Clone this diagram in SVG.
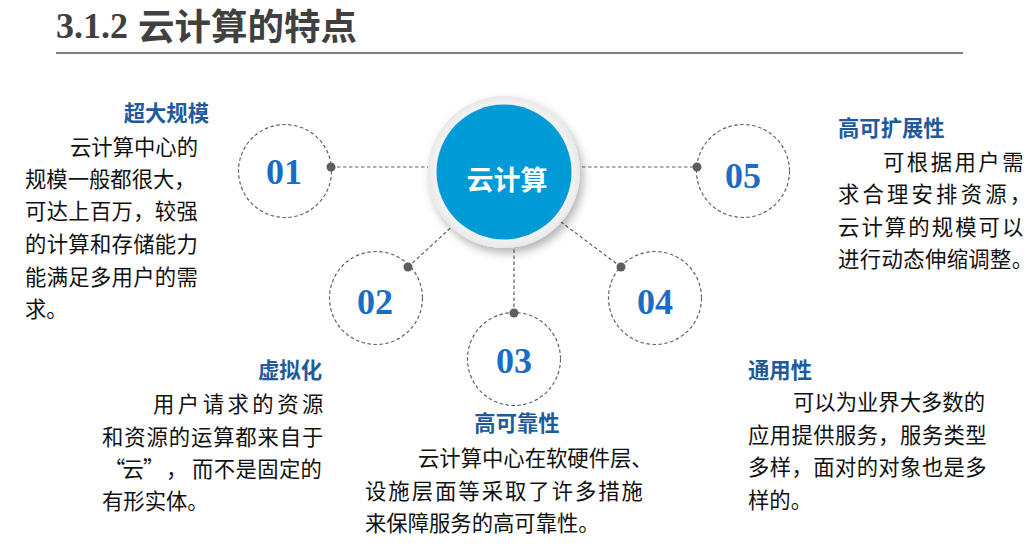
<svg xmlns="http://www.w3.org/2000/svg" width="1033" height="546" viewBox="0 0 1033 546">
<defs>
<style>
.title-num{font-family:"Liberation Serif",serif;font-weight:bold;font-size:36px;fill:#404040}
.title-cn{font-family:"Noto Sans CJK SC",sans-serif;font-weight:bold;font-size:36.5px;fill:#404040}
.num{font-family:"Liberation Serif",serif;font-weight:bold;font-size:36px;fill:#1a6dc6;text-anchor:middle}
.head{font-family:"Noto Sans CJK SC",sans-serif;font-weight:bold;font-size:21.33px;fill:#1f5b9c}
.body{font-family:"Noto Sans CJK SC",sans-serif;font-size:21.33px;fill:#111111}
.ring{fill:#ffffff;stroke:#636363;stroke-width:1.2;stroke-dasharray:3.5 2.5}
.conn{stroke:#636363;stroke-width:1.2;stroke-dasharray:3.5 2.5;fill:none}
.dot{fill:#5e5e5e}
</style>
<radialGradient id="ringGrad" cx="50%" cy="50%" r="50%">
<stop offset="85%" stop-color="#f7f7f7"/>
<stop offset="100%" stop-color="#e9e9e9"/>
</radialGradient>
<filter id="shadow" x="-30%" y="-30%" width="160%" height="160%">
<feDropShadow dx="3" dy="5" stdDeviation="5" flood-color="#000000" flood-opacity="0.3"/>
</filter>
</defs>
<rect width="1033" height="546" fill="#ffffff"/>

<g id="title">
<text class="title-num" x="56" y="38">3.1.2</text>
<text class="title-cn" x="138" y="39.5">云计算的特点</text>
<line x1="56" y1="53" x2="963" y2="53" stroke="#808080" stroke-width="2"/>
</g>

<g id="connectors">
<line class="conn" x1="331" y1="167" x2="440" y2="167"/>
<line class="conn" x1="570" y1="167" x2="697" y2="167"/>
<line class="conn" x1="408" y1="267" x2="470" y2="210"/>
<line class="conn" x1="621" y1="267" x2="545" y2="210"/>
<line class="conn" x1="514" y1="313" x2="514" y2="235"/>
</g>

<g id="node01">
<circle class="ring" cx="285" cy="171" r="46.5"/>
<text class="num" x="284" y="184">01</text>
<circle class="dot" cx="331" cy="167" r="4.5"/>
</g>
<g id="node02">
<circle class="ring" cx="376" cy="298" r="46.5"/>
<text class="num" x="375" y="314">02</text>
<circle class="dot" cx="408" cy="267" r="4.5"/>
</g>
<g id="node03">
<circle class="ring" cx="514" cy="359" r="46.5"/>
<text class="num" x="514" y="373">03</text>
<circle class="dot" cx="514" cy="313" r="4.5"/>
</g>
<g id="node04">
<circle class="ring" cx="655" cy="298" r="46.5"/>
<text class="num" x="655" y="314">04</text>
<circle class="dot" cx="621" cy="267" r="4.5"/>
</g>
<g id="node05">
<circle class="ring" cx="743" cy="171" r="46.5"/>
<text class="num" x="743" y="188">05</text>
<circle class="dot" cx="697" cy="167" r="4.5"/>
</g>

<g id="center">
<circle cx="504" cy="172" r="76" fill="url(#ringGrad)" filter="url(#shadow)"/>
<circle cx="504" cy="172" r="67.5" fill="#009ad6"/>
<text x="507" y="190" text-anchor="middle" font-family="Noto Sans CJK SC, sans-serif" font-weight="bold" font-size="27" fill="#ffffff">云计算</text>
</g>

<g id="text01">
<text class="head" x="209" y="121" text-anchor="end">超大规模</text>
<text class="body" x="70" y="155">云计算中心的</text>
<text class="body" x="25" y="187">规模一般都很大，</text>
<text class="body" x="25" y="219" letter-spacing="0.3">可达上百万，较强</text>
<text class="body" x="25" y="252" letter-spacing="0.3">的计算和存储能力</text>
<text class="body" x="25" y="285" letter-spacing="0.3">能满足多用户的需</text>
<text class="body" x="25" y="317">求。</text>
</g>

<g id="text05">
<text class="head" x="838" y="136">高可扩展性</text>
<text class="body" x="883" y="170" letter-spacing="2.5">可根据用户需</text>
<text class="body" x="838" y="202" letter-spacing="3.2">求合理安排资源，</text>
<text class="body" x="838" y="235" letter-spacing="2.1">云计算的规模可以</text>
<text class="body" x="838" y="267" letter-spacing="0.4">进行动态伸缩调整。</text>
</g>

<g id="text02">
<text class="head" x="322" y="378" text-anchor="end">虚拟化</text>
<text class="body" x="153" y="412" letter-spacing="3.5">用户请求的资源</text>
<text class="body" x="102" y="445" letter-spacing="0.9">和资源的运算都来自于</text>
<text class="body" x="104 122.5 143 166 192 213.7 235.5 257.2 278.9 300.6" y="477">“云”，而不是固定的</text>
<text class="body" x="102" y="509">有形实体。</text>
</g>

<g id="text03">
<text class="head" x="517" y="431" text-anchor="middle">高可靠性</text>
<text class="body" x="418" y="466">云计算中心在软硬件层、</text>
<text class="body" x="365" y="499" letter-spacing="2">设施层面等采取了许多措施</text>
<text class="body" x="365" y="531">来保障服务的高可靠性。</text>
</g>

<g id="text04">
<text class="head" x="748" y="378">通用性</text>
<text class="body" x="793" y="410">可以为业界大多数的</text>
<text class="body" x="748" y="443" letter-spacing="0.4">应用提供服务，服务类型</text>
<text class="body" x="748" y="475" letter-spacing="0.4">多样，面对的对象也是多</text>
<text class="body" x="748" y="508">样的。</text>
</g>
</svg>
